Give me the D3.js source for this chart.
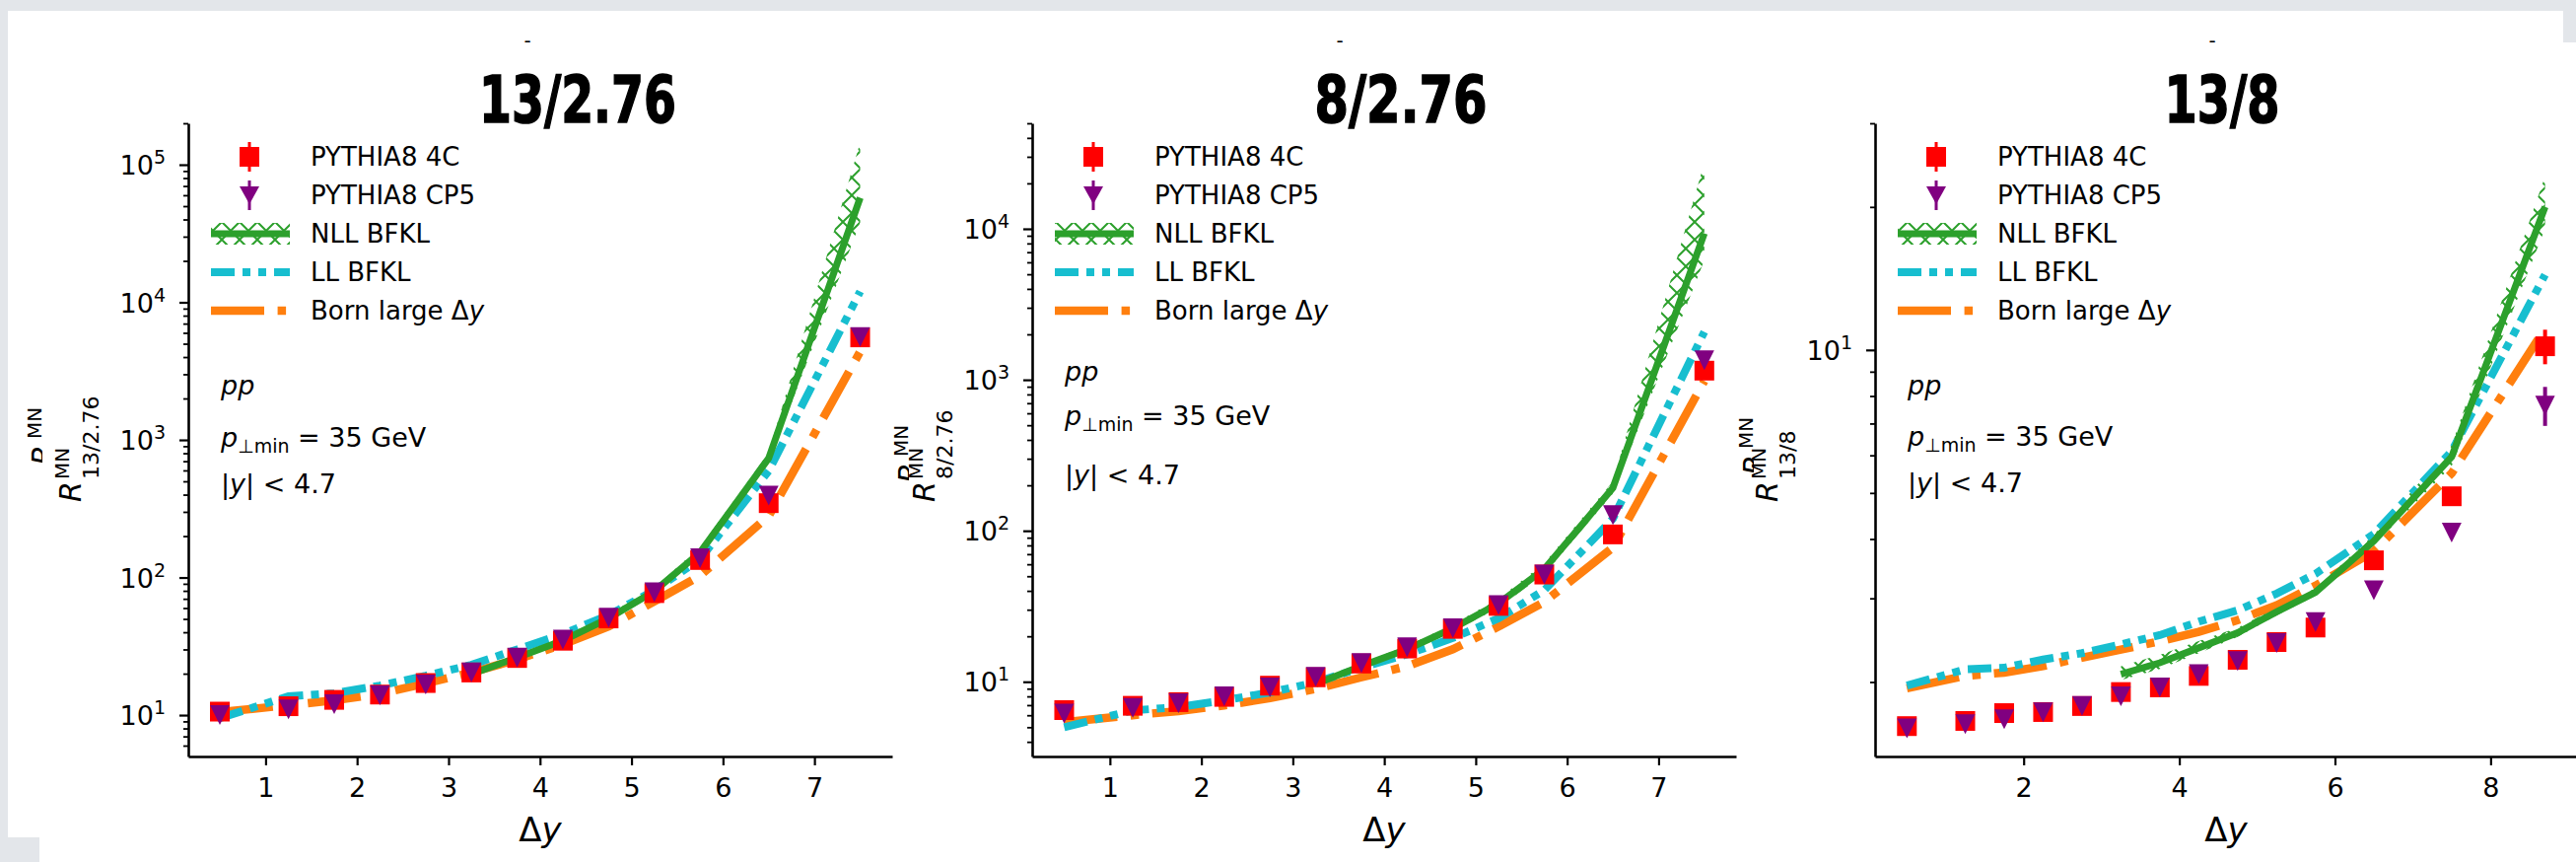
<!DOCTYPE html>
<html>
<head>
<meta charset="utf-8">
<script src="https://cdnjs.cloudflare.com/ajax/libs/d3/7.8.5/d3.min.js"></script>
<style>
  body { margin: 0; background: #e3e6ea; overflow: hidden; }
  svg { display: block; }
  text { font-family: "DejaVu Sans", sans-serif; fill: #000; }
</style>
</head>
<body>
<div id="chart"></div>
<script>
// ---- data ----
// delta-y bins
var dyBins = [0.5, 1.25, 1.75, 2.25, 2.75, 3.25, 3.75, 4.25, 4.75, 5.25, 5.75, 6.5, 7.5];
var dyBins13_8 = [0.5, 1.25, 1.75, 2.25, 2.75, 3.25, 3.75, 4.25, 4.75, 5.25, 5.75, 6.5, 7.5, 8.7];
var nllBins = [3.25, 3.75, 4.25, 4.75, 5.25, 5.75, 6.5, 7.5];
var nllBins13_8 = [3.25, 3.75, 4.25, 4.75, 5.25, 5.75, 6.5, 7.5, 8.7];

// 13/2.76
var p4C_13_276 = [10.6, 11.6, 12.9, 14.1, 17.1, 20.4, 26.0, 34.7, 50.4, 77, 134, 347, 5560];
var cp5_13_276 = [10.0, 11.0, 12.0, 13.9, 16.7, 20.4, 26.2, 35.4, 51.1, 78, 138, 394, 5600];
var nll_13_276 = [19.9, 26.2, 34.8, 50.6, 79.5, 152, 735, 57500];
var nllHi_13_276 = [21, 27.6, 37, 54, 85, 166, 810, 145000];
var nllLo_13_276 = [19, 25, 33, 48, 75, 142, 680, 38000];
var ll_13_276 = [9.5, 13.7, 14.4, 16.4, 19.3, 23.2, 30.0, 38.8, 53.3, 80.6, 136, 596, 12000];
var born_13_276 = [10.5, 11.8, 12.8, 14.3, 17.0, 20.4, 25.4, 32.6, 44.1, 67, 103, 280, 4380];

// 8/2.76
var p4C_8_276 = [6.49, 6.93, 7.33, 7.94, 9.42, 10.7, 13.2, 16.6, 22.4, 31.8, 51.3, 94.6, 1150];
var cp5_8_276 = [6.15, 6.7, 7.2, 8.0, 9.18, 10.8, 13.3, 16.9, 22.6, 32.2, 51.3, 127, 1350];
var nll_8_276 = [9.66, 12.7, 16.4, 22.6, 33, 55.8, 192, 9330];
var nllHi_8_276 = [10.1, 13.3, 17.3, 24, 35.5, 61, 212, 27400];
var nllLo_8_276 = [9.3, 12.2, 15.7, 21.4, 31, 51.5, 176, 6200];
var ll_8_276 = [5.0, 6.46, 6.79, 7.52, 8.5, 9.9, 12.4, 15.2, 19.5, 26.3, 40.4, 120, 2080];
var born_8_276 = [5.4, 6.0, 6.4, 6.97, 7.78, 8.96, 10.7, 12.7, 16.4, 23.2, 33.8, 77.4, 982];

// 13/8
var p4C_13_8 = [1.615, 1.656, 1.72, 1.729, 1.78, 1.905, 1.948, 2.06, 2.227, 2.427, 2.604, 3.607, 4.92, 10.18];
var p4CErr_13_8 = [0.02, 0.02, 0.02, 0.02, 0.02, 0.02, 0.02, 0.02, 0.03, 0.03, 0.04, 0.08, 0.15, 0.85];
var cp5_13_8 = [1.597, 1.63, 1.67, 1.726, 1.78, 1.866, 1.948, 2.077, 2.213, 2.415, 2.674, 3.118, 4.125, 7.64];
var cp5Err_13_8 = [0.02, 0.02, 0.02, 0.02, 0.02, 0.02, 0.02, 0.02, 0.03, 0.03, 0.04, 0.06, 0.1, 0.72];
var nll_13_8 = [2.077, 2.195, 2.36, 2.54, 2.81, 3.09, 3.96, 5.96, 20.0];
var nllHi_13_8 = [2.16, 2.28, 2.44, 2.6, 2.87, 3.15, 4.08, 6.3, 23.2];
var nllLo_13_8 = [2.02, 2.13, 2.3, 2.49, 2.76, 3.04, 3.88, 5.7, 18.0];
var ll_13_8 = [1.965, 2.127, 2.143, 2.23, 2.30, 2.40, 2.51, 2.68, 2.83, 3.07, 3.38, 4.1, 6.12, 14.4];
var born_13_8 = [1.94, 2.06, 2.093, 2.16, 2.25, 2.34, 2.436, 2.55, 2.70, 2.90, 3.19, 3.77, 5.50, 11.1];

var legendNames = ["PYTHIA8 4C", "PYTHIA8 CP5", "NLL BFKL", "LL BFKL", "Born large \u0394y"];

// colours (matplotlib tab defaults + red/purple markers)
var cRed = "#ff0000", cPurple = "#800080", cGreen = "#2ca02c", cCyan = "#17becf", cOrange = "#ff7f0e";

// ---- page ----
var svgWidth = 2613;
var svgHeight = 874;

var svg = d3.select("#chart")
  .append("svg")
  .attr("width", svgWidth)
  .attr("height", svgHeight);

// slide background: grey with two overlapping white cards
svg.append("rect").attr("width", svgWidth).attr("height", svgHeight).attr("fill", "#e3e6ea");
svg.append("rect").attr("x", 8).attr("y", 11).attr("width", 2592).attr("height", 838).attr("fill", "#fff");
svg.append("rect").attr("x", 40).attr("y", 43).attr("width", 2573).attr("height", 831).attr("fill", "#fff");

var defs = svg.append("defs");
// cross hatch for the NLL band
var pat = defs.append("pattern")
  .attr("id", "hatch")
  .attr("patternUnits", "userSpaceOnUse")
  .attr("width", 18)
  .attr("height", 18);
pat.append("path")
  .attr("d", "M0,0L18,18M18,0L0,18")
  .attr("stroke", cGreen)
  .attr("stroke-width", 2)
  .attr("fill", "none");

var axTop = 125, axBottom = 767;

var panels = [
  {
    title: "13/2.76", titleX: 586, titleW: 200, dashX: 535,
    left: 191, right: 905, xDom: [0.155, 7.85], xTicks: [1, 2, 3, 4, 5, 6, 7],
    yDom: [5.004, 2e5], yMajor: [10, 100, 1000, 1e4, 1e5],
    sub: "13/2.76", labelX: 82, ghostX: 54, ghostU: -26, ghostClip: [0, 43],
    annY: [400, 453, 500],
    bins: dyBins, nllX: nllBins,
    p4C: p4C_13_276, cp5: cp5_13_276, p4CErr: null, cp5Err: null,
    nll: nll_13_276, nllHi: nllHi_13_276, nllLo: nllLo_13_276, ll: ll_13_276, born: born_13_276
  },
  {
    title: "8/2.76", titleX: 1421, titleW: 175, dashX: 1359,
    left: 1047, right: 1761, xDom: [0.15, 7.847], xTicks: [1, 2, 3, 4, 5, 6, 7],
    yDom: [3.2, 5e4], yMajor: [10, 100, 1000, 1e4],
    sub: "8/2.76", labelX: 948, ghostX: 933, ghostU: -44, ghostClip: [880, 922],
    annY: [386, 431, 491],
    bins: dyBins, nllX: nllBins,
    p4C: p4C_8_276, cp5: cp5_8_276, p4CErr: null, cp5Err: null,
    nll: nll_8_276, nllHi: nllHi_8_276, nllLo: nllLo_8_276, ll: ll_8_276, born: born_8_276
  },
  {
    title: "13/8", titleX: 2254, titleW: 117, dashX: 2244,
    left: 1902, right: 2614, xDom: [0.091, 9.11], xTicks: [2, 4, 6, 8],
    yDom: [1.394, 30], yMajor: [10],
    sub: "13/8", labelX: 1803, ghostX: 1790, ghostU: -36, ghostClip: [1740, 1779],
    annY: [400, 452, 499],
    bins: dyBins13_8, nllX: nllBins13_8,
    p4C: p4C_13_8, cp5: cp5_13_8, p4CErr: p4CErr_13_8, cp5Err: cp5Err_13_8,
    nll: nll_13_8, nllHi: nllHi_13_8, nllLo: nllLo_13_8, ll: ll_13_8, born: born_13_8
  }
];

// minor ticks on a log axis: 2..9 of every decade that falls inside the domain
function minorTicks(dom) {
  var out = [];
  for (var e = -1; e < 7; e++) {
    for (var m = 2; m < 10; m++) {
      var v = m * Math.pow(10, e);
      if (v >= dom[0] && v <= dom[1] * 1.0001) out.push(v);
    }
  }
  return out;
}

panels.forEach(function(p, pi) {
  var x = d3.scaleLinear().domain(p.xDom).range([p.left, p.right]);
  var y = d3.scaleLog().domain(p.yDom).range([axBottom, axTop]);
  var g = svg.append("g");

  // little stray dash above each title
  g.append("text")
    .attr("x", p.dashX).attr("y", 48)
    .attr("text-anchor", "middle")
    .style("font-size", "20px")
    .text("-");

  // title in a heavy condensed face
  g.append("text")
    .attr("x", p.titleX).attr("y", 124)
    .attr("text-anchor", "middle")
    .attr("textLength", p.titleW)
    .attr("lengthAdjust", "spacingAndGlyphs")
    .style("font-family", "'Liberation Sans Narrow', 'DejaVu Sans Condensed', 'Roboto', sans-serif")
    .style("font-weight", "bold")
    .style("font-size", "66px")
    .style("stroke", "#000")
    .style("stroke-width", "1.5px")
    .text(p.title);

  // ---- lines ----
  var line = d3.line().x(function(d) { return x(d[0]); }).y(function(d) { return y(d[1]); });

  // NLL band (hatched, no fill)
  var band = d3.area()
    .x(function(d, i) { return x(p.nllX[i]); })
    .y0(function(d, i) { return y(p.nllLo[i]); })
    .y1(function(d, i) { return y(p.nllHi[i]); });
  g.append("path")
    .datum(p.nll)
    .attr("d", band)
    .attr("fill", "url(#hatch)")
    .attr("stroke", "none");

  g.append("path")
    .datum(p.bins.map(function(b, i) { return [b, p.born[i]]; }))
    .attr("d", line)
    .attr("fill", "none")
    .attr("stroke", cOrange)
    .attr("stroke-width", 8.5)
    .attr("stroke-dasharray", "54,13.6,8.5,13.6");

  g.append("path")
    .datum(p.bins.map(function(b, i) { return [b, p.ll[i]]; }))
    .attr("d", line)
    .attr("fill", "none")
    .attr("stroke", cCyan)
    .attr("stroke-width", 8)
    .attr("stroke-dasharray", "24,8,8,8,8,8");

  g.append("path")
    .datum(p.nllX.map(function(b, i) { return [b, p.nll[i]]; }))
    .attr("d", line)
    .attr("fill", "none")
    .attr("stroke", cGreen)
    .attr("stroke-width", 7);

  // ---- points ----
  var pts4C = p.bins.map(function(b, i) { return {x: b, v: p.p4C[i], e: p.p4CErr ? p.p4CErr[i] : 0}; });
  var ptsCP5 = p.bins.map(function(b, i) { return {x: b, v: p.cp5[i], e: p.cp5Err ? p.cp5Err[i] : 0}; });

  g.selectAll(".err4c").data(pts4C).enter().append("line")
    .attr("x1", function(d) { return x(d.x); }).attr("x2", function(d) { return x(d.x); })
    .attr("y1", function(d) { return y(d.v - d.e); }).attr("y2", function(d) { return y(d.v + d.e); })
    .attr("stroke", cRed).attr("stroke-width", 4);
  g.selectAll(".sq").data(pts4C).enter().append("rect")
    .attr("x", function(d) { return x(d.x) - 10; })
    .attr("y", function(d) { return y(d.v) - 10; })
    .attr("width", 20).attr("height", 20)
    .attr("fill", cRed);

  g.selectAll(".errcp5").data(ptsCP5).enter().append("line")
    .attr("x1", function(d) { return x(d.x); }).attr("x2", function(d) { return x(d.x); })
    .attr("y1", function(d) { return y(d.v - d.e); }).attr("y2", function(d) { return y(d.v + d.e); })
    .attr("stroke", cPurple).attr("stroke-width", 4);
  g.selectAll(".tri").data(ptsCP5).enter().append("path")
    .attr("transform", function(d) { return "translate(" + x(d.x) + "," + y(d.v) + ")"; })
    .attr("d", "M-10,-10L10,-10L0,10Z")
    .attr("fill", cPurple);

  // ---- axes ----
  var bottomAxis = d3.axisBottom(x).tickValues(p.xTicks).tickSize(9).tickSizeOuter(0).tickPadding(13).tickFormat(d3.format("d"));
  var xg = g.append("g").attr("transform", "translate(0," + axBottom + ")").call(bottomAxis);
  xg.select(".domain").attr("stroke-width", 2.6);
  xg.selectAll(".tick line").attr("stroke-width", 2.2);
  xg.selectAll(".tick text").style("font-size", "27px").style("font-family", "'DejaVu Sans', sans-serif");

  var leftAxis = d3.axisLeft(y).tickValues(p.yMajor).tickSize(9).tickSizeOuter(0).tickFormat("");
  var yg = g.append("g").attr("transform", "translate(" + p.left + ",0)").call(leftAxis);
  yg.select(".domain").attr("stroke-width", 2.6);
  yg.selectAll(".tick line").attr("stroke-width", 2.2);

  var minorAxis = d3.axisLeft(y).tickValues(minorTicks(p.yDom)).tickSize(5).tickSizeOuter(0).tickFormat("");
  var mg = g.append("g").attr("transform", "translate(" + p.left + ",0)").call(minorAxis);
  mg.select(".domain").remove();
  mg.selectAll(".tick line").attr("stroke-width", 1.8);

  // 10^n labels
  p.yMajor.forEach(function(v) {
    var t = g.append("text")
      .attr("x", p.left - 23)
      .attr("y", y(v) + 10)
      .attr("text-anchor", "end")
      .style("font-size", "27px");
    t.append("tspan").text("10");
    t.append("tspan").attr("dy", -11).style("font-size", "19px").text(Math.round(Math.log10(v)));
  });

  // x label
  var xl = g.append("text")
    .attr("x", (p.left + p.right) / 2)
    .attr("y", 853)
    .attr("text-anchor", "middle")
    .style("font-size", "34px");
  xl.append("tspan").text("\u0394");
  xl.append("tspan").style("font-style", "italic").text("y");

  // y label  R^MN_sub
  var midY = (axTop + axBottom) / 2;
  var yl = g.append("g").attr("transform", "translate(" + p.labelX + "," + midY + ") rotate(-90)");
  yl.append("text").attr("x", -63).attr("y", 0).style("font-size", "30px").style("font-style", "italic").text("R");
  yl.append("text").attr("x", -40).attr("y", -12).style("font-size", "20px").text("MN");
  yl.append("text").attr("x", -40).attr("y", 18).style("font-size", "22px").text(p.sub);

  // clipped ghost of the label further left
  var cid = "gclip" + pi;
  defs.append("clipPath").attr("id", cid)
    .append("rect").attr("x", p.ghostClip[0]).attr("y", 380).attr("width", p.ghostClip[1] - p.ghostClip[0]).attr("height", 140);
  var gh = g.append("g").attr("clip-path", "url(#" + cid + ")")
    .append("g").attr("transform", "translate(" + p.ghostX + "," + midY + ") rotate(-90)");
  gh.append("text").attr("x", p.ghostU).attr("y", 0).style("font-size", "30px").style("font-style", "italic").text("R");
  gh.append("text").attr("x", p.ghostU + 27).attr("y", -12).style("font-size", "20px").text("MN");

  // ---- legend ----
  var lx = p.left;
  var rows = [159, 198, 237, 276, 315];
  // 4C
  g.append("line").attr("x1", lx + 62).attr("x2", lx + 62).attr("y1", rows[0] - 15).attr("y2", rows[0] + 15).attr("stroke", cRed).attr("stroke-width", 3);
  g.append("rect").attr("x", lx + 52).attr("y", rows[0] - 10).attr("width", 20).attr("height", 20).attr("fill", cRed);
  // CP5
  g.append("line").attr("x1", lx + 62).attr("x2", lx + 62).attr("y1", rows[1] - 15).attr("y2", rows[1] + 15).attr("stroke", cPurple).attr("stroke-width", 3);
  g.append("path").attr("transform", "translate(" + (lx + 62) + "," + rows[1] + ")").attr("d", "M-10,-9L10,-9L0,9Z").attr("fill", cPurple);
  // NLL
  g.append("rect").attr("x", lx + 23).attr("y", rows[2] - 11).attr("width", 80).attr("height", 22).attr("fill", "url(#hatch)");
  g.append("line").attr("x1", lx + 23).attr("x2", lx + 103).attr("y1", rows[2]).attr("y2", rows[2]).attr("stroke", cGreen).attr("stroke-width", 7);
  // LL
  g.append("line").attr("x1", lx + 23).attr("x2", lx + 103).attr("y1", rows[3]).attr("y2", rows[3]).attr("stroke", cCyan).attr("stroke-width", 8).attr("stroke-dasharray", "24,8,8,8,8,8");
  // Born
  g.append("line").attr("x1", lx + 23).attr("x2", lx + 103).attr("y1", rows[4]).attr("y2", rows[4]).attr("stroke", cOrange).attr("stroke-width", 8.5).attr("stroke-dasharray", "54,13.6,8.5,13.6");

  legendNames.forEach(function(name, i) {
    var t = g.append("text").attr("x", lx + 124).attr("y", rows[i] + 9).style("font-size", "26px");
    if (i === 4) {
      t.append("tspan").text("Born large \u0394");
      t.append("tspan").style("font-style", "italic").text("y");
    } else {
      t.text(name);
    }
  });

  // ---- annotations ----
  var ax = p.left + 33;
  g.append("text").attr("x", ax).attr("y", p.annY[0]).style("font-size", "27px").style("font-style", "italic").text("pp");
  var a2 = g.append("text").attr("x", ax).attr("y", p.annY[1]).style("font-size", "27px");
  a2.append("tspan").style("font-style", "italic").text("p");
  a2.append("tspan").attr("dy", 6).style("font-size", "19px").text("\u22a5min");
  a2.append("tspan").attr("dy", -6).text(" = 35 GeV");
  var a3 = g.append("text").attr("x", ax).attr("y", p.annY[2]).style("font-size", "27px");
  a3.append("tspan").text("|");
  a3.append("tspan").style("font-style", "italic").text("y");
  a3.append("tspan").text("| < 4.7");
});
</script>
</body>
</html>
